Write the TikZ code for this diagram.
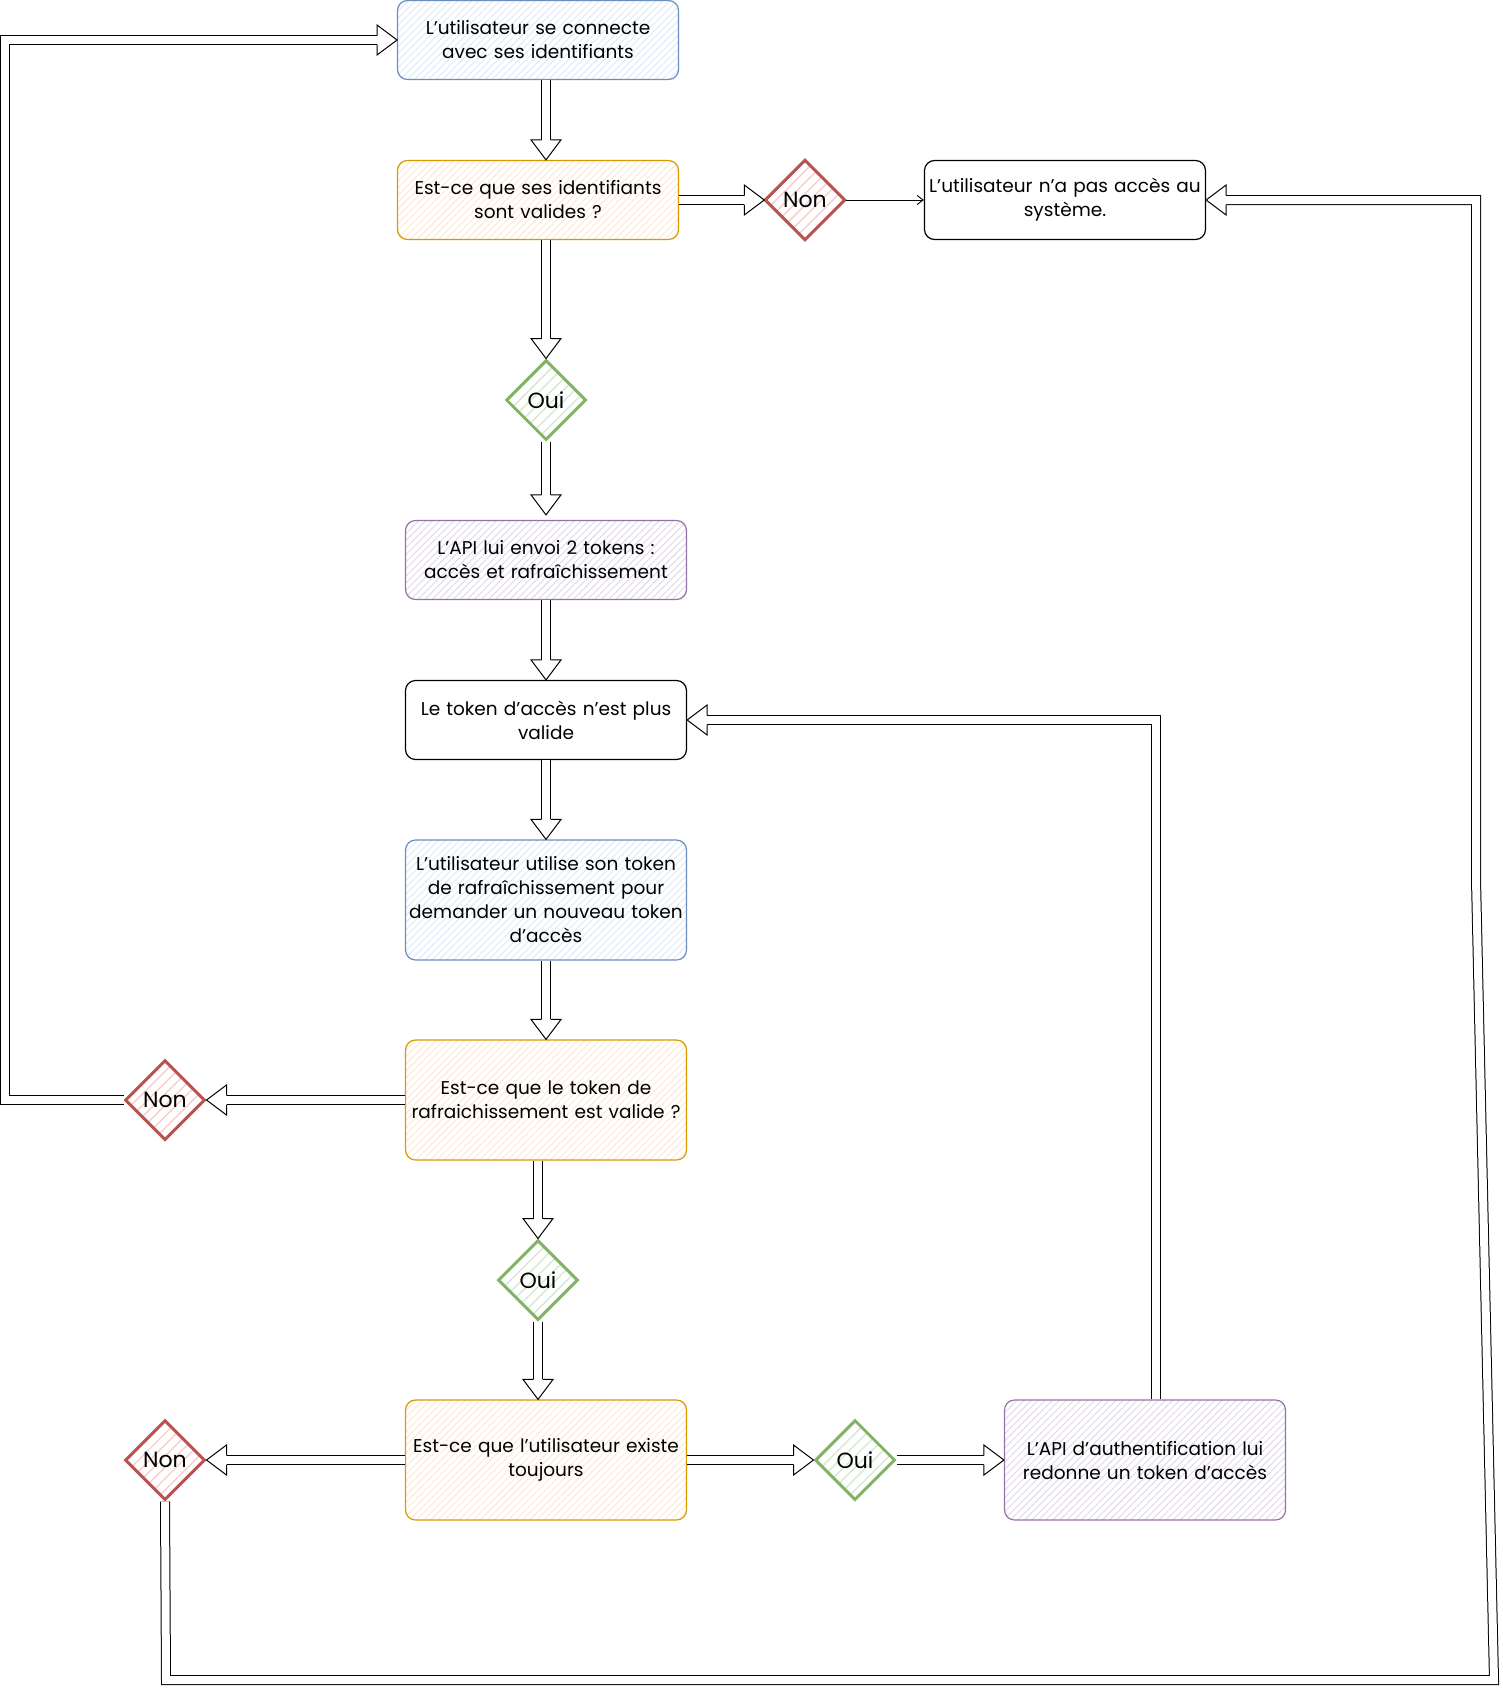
\documentclass[tikz,border=0pt]{standalone}
\usepackage{fontspec}
\setmainfont{Poppins}
\usetikzlibrary{shapes.geometric, arrows.meta, patterns.meta, calc}

\definecolor{blueF}{HTML}{DAE8FC}\definecolor{blueS}{HTML}{6C8EBF}
\definecolor{orangeF}{HTML}{FFE6CC}\definecolor{orangeS}{HTML}{D79B00}
\definecolor{purpleF}{HTML}{E1D5E7}\definecolor{purpleS}{HTML}{9673A6}
\definecolor{redF}{HTML}{F8CECC}\definecolor{redS}{HTML}{B85450}
\definecolor{greenF}{HTML}{D5E8D4}\definecolor{greenS}{HTML}{82B366}

% hollow block-arrow head: wings start at the shaft edges, no line across the shaft
\pgfdeclarearrow{
  name = Flex,
  parameters = {\the\pgfarrowlength,\the\pgfarrowwidth},
  setup code = {
    \pgfarrowssettipend{\pgfarrowlength}
    \pgfarrowssetlineend{0pt}
    \pgfarrowssavethe\pgfarrowlength
    \pgfarrowssavethe\pgfarrowwidth
  },
  drawing code = {
    \pgfsetdash{}{0pt}
    \pgfsetlinewidth{1pt}
    \pgfsetmiterjoin
    \pgfsetfillcolor{white}
    \pgfpathmoveto{\pgfqpoint{0pt}{4.5pt}}
    \pgfpathlineto{\pgfqpoint{0pt}{.5\pgfarrowwidth}}
    \pgfpathlineto{\pgfqpoint{\pgfarrowlength}{0pt}}
    \pgfpathlineto{\pgfqpoint{0pt}{-.5\pgfarrowwidth}}
    \pgfpathlineto{\pgfqpoint{0pt}{-4.5pt}}
    \pgfusepathqfillstroke
  },
  defaults = {length=20pt, width=30pt}
}

\newcommand\bxfont{\fontsize{18.5}{24}\selectfont}
\newcommand\dmfont{\fontsize{22}{26}\selectfont}

\tikzset{
  box/.style={rectangle, rounded corners=10pt, draw=black, line width=1.2pt,
    minimum width=281pt, minimum height=79pt, text width=278pt,
    align=center, inner sep=1.5pt, font=\bxfont},
  hatch/.style={pattern={Lines[angle=45, distance=5pt, line width=0.9pt]}, pattern color=#1},
  bluebox/.style={box, draw=blueS, hatch=blueF},
  orangebox/.style={box, draw=orangeS, hatch=orangeF},
  purplebox/.style={box, draw=purpleS, hatch=purpleF},
  dia/.style={diamond, aspect=1, line width=3pt, minimum width=80pt,
    minimum height=80pt, inner sep=0pt, font=\dmfont,
    pattern={Lines[angle=45, distance=8pt, line width=1.4pt]}},
  nondia/.style={dia, draw=redS, pattern color=redF},
  ouidia/.style={dia, draw=greenS, pattern color=greenF},
  flex/.style={draw=black, line width=1pt, double=white, double distance=8pt,
    line join=miter, -{Flex}},
  thinarrow/.style={draw=black, line width=0.9pt, -{Straight Barb[length=6pt, width=9pt]}}
}

\begin{document}
\begin{tikzpicture}[x=1pt, y=-1pt]
\useasboundingbox (0,0) rectangle (1502,1689);

% process boxes and decisions
\node[bluebox]   (b1)  at (538,40)   {L’utilisateur se connecte\\avec ses identifiants};
\node[orangebox] (b2)  at (538,200)  {Est-ce que ses identifiants\\sont valides ?};
\node[nondia]    (n1)  at (805,200)  {Non};
\node[box]       (b4)  at (1065,200) {L’utilisateur n’a pas accès au\\système.};
\node[ouidia]    (o1)  at (546,400)  {Oui};
\node[purplebox] (b6)  at (546,560)  {L’API lui envoi 2 tokens :\\accès et rafraîchissement};
\node[box]       (b7)  at (546,720)  {Le token d’accès n’est plus\\valide};
\node[bluebox, minimum height=120pt] (b8) at (546,900)
  {L’utilisateur utilise son token\\de rafraîchissement pour\\demander un nouveau token\\d’accès};
\node[orangebox, minimum height=120pt] (b9) at (546,1100)
  {Est-ce que le token de\\rafraichissement est valide ?};
\node[nondia]    (n2)  at (165,1100) {Non};
\node[ouidia]    (o2)  at (538,1280) {Oui};
\node[orangebox, minimum height=120pt] (b11) at (546,1460)
  {Est-ce que l’utilisateur existe\\toujours};
\node[nondia]    (n3)  at (165,1460) {Non};
\node[ouidia]    (o3)  at (855,1460) {Oui};
\node[purplebox, minimum height=120pt] (b13) at (1145,1460)
  {L’API d’authentification lui\\redonne un token d’accès};

% routing points of the loop-back connectors
\coordinate (lx) at (5,40);
\coordinate (rx) at (1156,720);
\coordinate (bl) at (166,1680);
\coordinate (br) at (1494,1680);
\coordinate (rm) at (1476,880);
\coordinate (rt) at (1476,200);

% connectors
\draw[flex] (b1.south -| o1) -- (b2.north -| o1);
\draw[flex] (b2.east) -- (n1.west);
\draw[thinarrow] (n1.east) -- (b4.west);
\draw[flex] (b2.south -| o1) -- (o1.north);
\draw[flex, shorten >=5pt] (o1.south) -- (b6.north);
\draw[flex] (b6.south) -- (b7.north);
\draw[flex] (b7.south) -- (b8.north);
\draw[flex] (b8.south) -- (b9.north);
\draw[flex] (b9.west) -- (n2.east);
\draw[flex] (n2.west) -- (n2.west -| lx) -- (lx) -- (b1.west);
\draw[flex] (b9.south -| o2) -- (o2.north);
\draw[flex] (o2.south) -- (b11.north -| o2);
\draw[flex] (b11.west) -- (n3.east);
\draw[flex] (b11.east) -- (o3.west);
\draw[flex] (o3.east) -- (b13.west);
\draw[flex] (b13.north -| rx) -- (rx) -- (b7.east);
\draw[flex] (n3.south) -- (bl) -- (br) -- (rm) -- (rt) -- (b4.east);
\end{tikzpicture}
\end{document}
